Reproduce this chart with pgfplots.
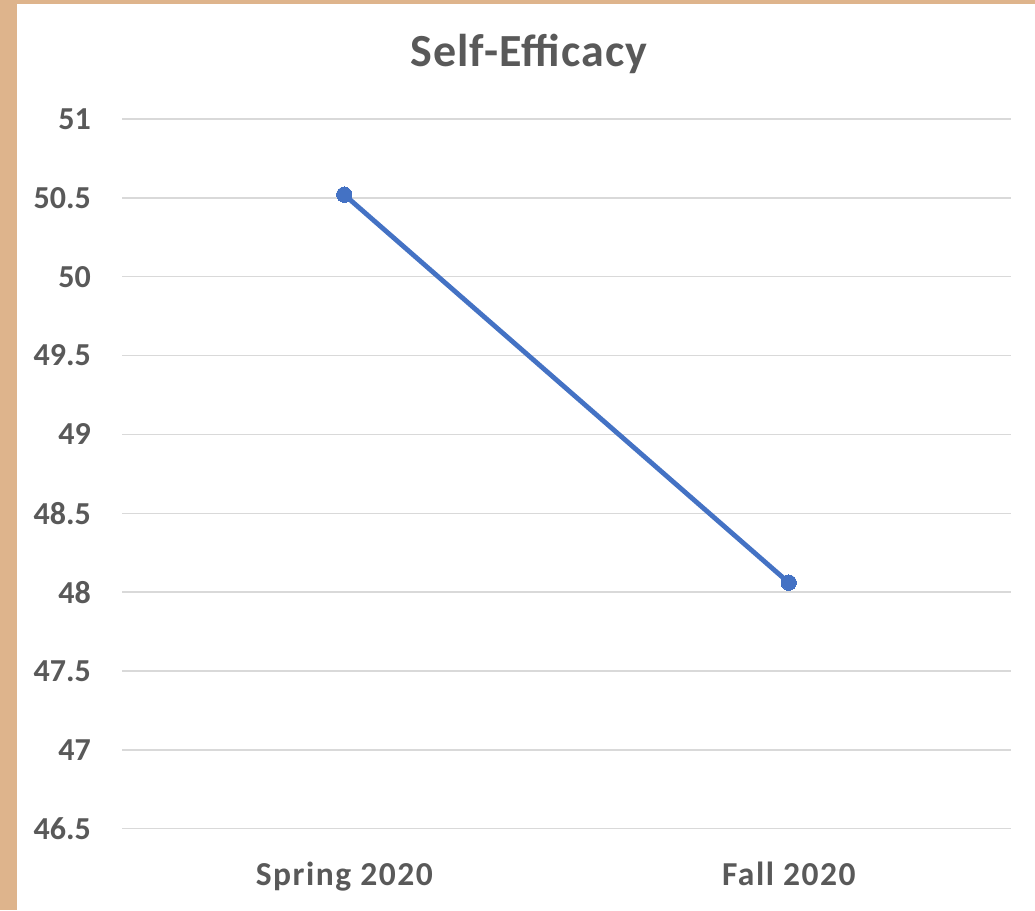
\documentclass[border=0pt]{standalone}
\usepackage{fontspec}
\setmainfont{Carlito}
\newfontfamily\spaced[LetterSpace=4.5]{Carlito}
\newfontfamily\titlefont[LetterSpace=2.2]{Carlito}
\usepackage{pgfplots}
\pgfplotsset{compat=1.18}
\definecolor{tanc}{RGB}{222,180,140}
\definecolor{txt}{RGB}{89,89,89}
\definecolor{grd}{RGB}{217,217,217}
\definecolor{ser}{RGB}{68,114,196}
\begin{document}
\begin{tikzpicture}[x=1pt,y=1pt]
\fill[tanc] (0,0) rectangle (1035,910);
\fill[white] (17,0) rectangle (1035,906);
\node[anchor=base, font=\titlefont\fontsize{46}{50}\selectfont\bfseries, text=txt, inner sep=0pt] at (529,843) {Self-Efficacy};
\begin{axis}[at={(122pt,81.3pt)}, anchor=south west, scale only axis,
  width=889pt, height=709.7pt,
  xmin=-0.5, xmax=1.5, ymin=46.5, ymax=51,
  axis line style={draw=none}, tick style={draw=none},
  ytick={46.5,47,47.5,48,48.5,49,49.5,50,50.5,51},
  yticklabels={46.5,47,47.5,48,48.5,49,49.5,50,50.5,51},
  xtick={0,1}, xticklabels={Spring 2020,Fall 2020},
  ymajorgrids, major grid style={grd, line width=1.5pt},
  tick label style={font=\fontsize{32}{38}\selectfont\bfseries, text=txt, inner sep=0pt},
  yticklabel style={anchor=east, xshift=-31pt},
  xticklabel style={anchor=north, yshift=-33pt, font=\spaced\fontsize{33.5}{38}\selectfont\bfseries},
  clip=false]
\addplot[ser, line width=4.8pt, line join=round, mark=*, mark size=7.7pt,
  mark options={fill=ser, draw=ser, line width=0pt}] coordinates {(0,50.52) (1,48.06)};
\end{axis}
\end{tikzpicture}
\end{document}
